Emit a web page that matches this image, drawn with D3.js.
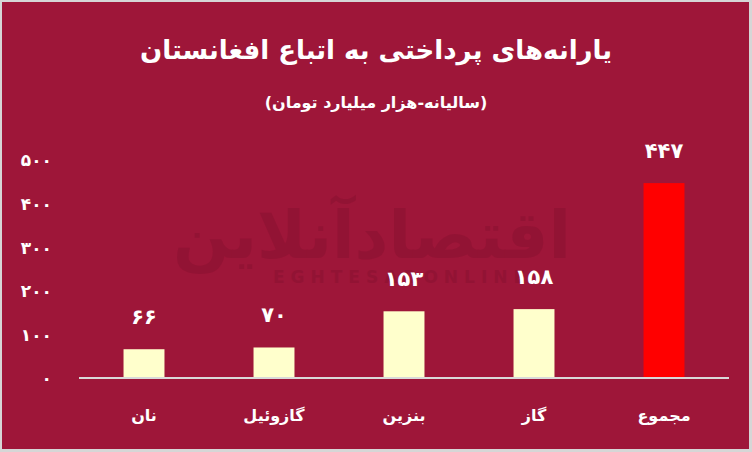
<!DOCTYPE html>
<html>
<head>
<meta charset="utf-8">
<script src="https://cdn.jsdelivr.net/npm/d3@7"></script>
<style>
  html, body { margin: 0; padding: 0; background: #d6d6d6; }
  svg { display: block; }
  text { font-family: "DejaVu Sans", "Noto Sans", sans-serif; }
</style>
</head>
<body>
<svg id="chart" width="752" height="452"></svg>
<script>
const categories = ["نان", "گازوئیل", "بنزین", "گاز", "مجموع"];
const values = [66, 70, 153, 158, 447];
const barColors = ["#ffffcc", "#ffffcc", "#ffffcc", "#ffffcc", "#ff0000"];
const tickValues = [0, 100, 200, 300, 400, 500];
const tickLabels = ["۰", "۱۰۰", "۲۰۰", "۳۰۰", "۴۰۰", "۵۰۰"];
const title = "یارانه‌های پرداختی به اتباع افغانستان";
const subtitle = "(سالیانه-هزار میلیارد تومان)";

const faDigits = s => String(s).replace(/[0-9]/g, d => "۰۱۲۳۴۵۶۷۸۹"[+d]);

const W = 752, H = 452;
const svg = d3.select("#chart");

// frame
svg.append("rect").attr("x", 0).attr("y", 0).attr("width", W).attr("height", H).attr("fill", "#d6d6d6");
svg.append("rect").attr("x", 2).attr("y", 2).attr("width", W - 5).attr("height", H - 5).attr("fill", "#9e1639");

// watermark (faint)
const wm = svg.append("g").attr("opacity", 0.75);
wm.append("text")
  .attr("x", 372).attr("y", 258)
  .attr("text-anchor", "middle")
  .attr("direction", "rtl")
  .attr("font-size", 66).attr("font-weight", "bold")
  .attr("fill", "#8f1333")
  .text("اقتصادآنلاین");
wm.append("text")
  .attr("x", 402).attr("y", 283)
  .attr("text-anchor", "middle")
  .attr("font-size", 17).attr("font-weight", "bold")
  .attr("letter-spacing", 6)
  .attr("fill", "#8f1333")
  .text("EGHTESADONLINE");

const x = d3.scaleBand()
  .domain(categories)
  .range([79, 729])
  .paddingInner(0.685)
  .paddingOuter(0.3425);

const y = d3.scaleLinear().domain([0, 500]).range([378, 160]);

// y tick labels
const yAxis = d3.axisLeft(y)
  .tickValues(tickValues)
  .tickFormat((d, i) => tickLabels[i])
  .tickSize(0).tickPadding(0);
const gy = svg.append("g").attr("transform", "translate(52,0)").call(yAxis);
gy.select(".domain").remove();
gy.selectAll("text")
  .attr("fill", "#ffffff")
  .attr("font-size", 17).attr("font-weight", "bold")
  .attr("font-family", "DejaVu Sans")
  .attr("dy", "0.35em");

// bars
svg.selectAll("rect.bar").data(values).enter().append("rect")
  .attr("class", "bar")
  .attr("x", (d, i) => x(categories[i]))
  .attr("width", x.bandwidth())
  .attr("y", d => y(d))
  .attr("height", d => y(0) - y(d))
  .attr("fill", (d, i) => barColors[i]);

// baseline axis
const xAxis = d3.axisBottom(x).tickSize(0).tickPadding(0).tickFormat("");
const gx = svg.append("g").attr("transform", `translate(0,${y(0)})`).call(xAxis);
gx.select(".domain").attr("stroke", "#d9d9d9").attr("stroke-width", 2).attr("d", "M79,0H729");

// value labels
svg.selectAll("text.val").data(values).enter().append("text")
  .attr("class", "val")
  .attr("x", (d, i) => x(categories[i]) + x.bandwidth() / 2)
  .attr("y", d => y(d) - 25)
  .attr("text-anchor", "middle")
  .attr("fill", "#ffffff")
  .attr("font-size", 21).attr("font-weight", "bold")
  .text(d => faDigits(d));

// category labels
svg.selectAll("text.cat").data(categories).enter().append("text")
  .attr("class", "cat")
  .attr("x", d => x(d) + x.bandwidth() / 2)
  .attr("y", 421)
  .attr("text-anchor", "middle")
  .attr("direction", "rtl")
  .attr("fill", "#ffffff")
  .attr("font-size", 16).attr("font-weight", "bold")
  .text(d => d);

// titles
svg.append("text")
  .attr("x", 376).attr("y", 59)
  .attr("text-anchor", "middle")
  .attr("direction", "rtl")
  .attr("fill", "#ffffff")
  .attr("font-size", 26).attr("font-weight", "bold")
  .text(title);
svg.append("text")
  .attr("x", 376).attr("y", 108)
  .attr("text-anchor", "middle")
  .attr("direction", "rtl")
  .attr("fill", "#ffffff")
  .attr("font-size", 16).attr("font-weight", "bold")
  .text(subtitle);
</script>
</body>
</html>
